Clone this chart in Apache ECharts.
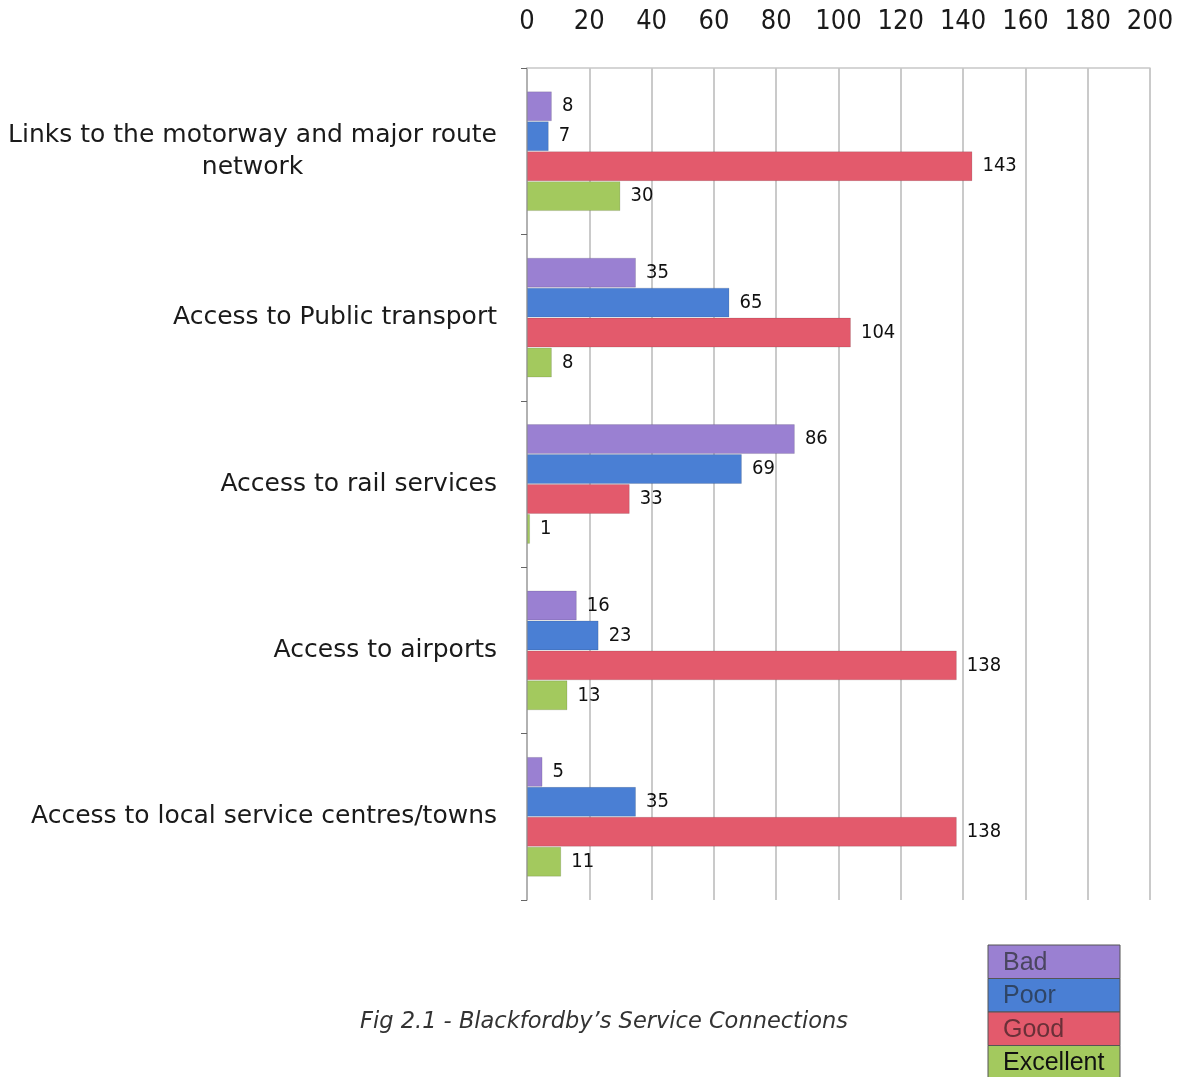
<!DOCTYPE html>
<html>
<head>
<meta charset="utf-8">
<style>
  html, body { margin: 0; padding: 0; background: #fff; }
  #chart { width: 1183px; height: 1077px; }
</style>
<script src="https://cdn.jsdelivr.net/npm/echarts@6/dist/echarts.min.js"></script>
</head>
<body>
<div id="chart"></div>
<script>
// Survey categories (top to bottom)
const categories = [
  'Links to the motorway and major route\nnetwork',
  'Access to Public transport',
  'Access to rail services',
  'Access to airports',
  'Access to local service centres/towns'
];

// Response counts per rating
const seriesNames = ['Bad', 'Poor', 'Good', 'Excellent'];
const bad       = [8, 35, 86, 16, 5];
const poor      = [7, 65, 69, 23, 35];
const good      = [143, 104, 33, 138, 138];
const excellent = [30, 8, 1, 13, 11];
const seriesData = [bad, poor, good, excellent];

const colors = ['#9a80d2', '#4a7fd4', '#e35a6c', '#a3c95e'];
const legendText = ['#4a4560', '#2f4566', '#6a3038', '#111'];

// Value axis ticks
const tickMin = 0, tickMax = 200, tickStep = 20;

const sans = '"DejaVu Sans", Verdana, sans-serif';
const condensed = '"DejaVu Sans Condensed", "DejaVu Sans", sans-serif';

const chart = echarts.init(document.getElementById('chart'));

const legendItems = [];
seriesNames.forEach((name, i) => {
  legendItems.push({
    type: 'rect',
    shape: { x: 988, y: 945 + i * 33.5, width: 132, height: 33.5 },
    style: { fill: colors[i], stroke: '#555', lineWidth: 1 }
  });
  legendItems.push({
    type: 'text',
    x: 1003, y: 945 + i * 33.5 + 18,
    style: {
      text: name, fill: legendText[i],
      font: '25px "Liberation Sans", Arial, sans-serif',
      verticalAlign: 'middle'
    }
  });
});

chart.setOption({
  animation: false,
  grid: { left: 527, right: 33, top: 68, bottom: 177, containLabel: false },
  xAxis: {
    type: 'value',
    position: 'top',
    min: tickMin, max: tickMax, interval: tickStep,
    axisLine: { show: true, lineStyle: { color: '#c8c8c8', width: 1.5 } },
    axisTick: { show: false },
    axisLabel: {
      margin: 33,
      color: '#1a1a1a',
      fontSize: 27,
      fontFamily: condensed
    },
    splitLine: { show: true, lineStyle: { color: '#b8b8b8', width: 1.5 } }
  },
  yAxis: {
    type: 'category',
    inverse: true,
    data: categories,
    axisLine: { show: true, lineStyle: { color: '#aaa', width: 1.5 } },
    axisTick: { show: true, length: 6, lineStyle: { color: '#666' } },
    axisLabel: {
      margin: 30,
      color: '#1a1a1a',
      fontSize: 25,
      fontFamily: sans,
      lineHeight: 32,
      formatter: (v) => v.split('\n').map(s => '{c|' + s + '}').join('\n'),
      rich: {
        c: {
          align: 'center',
          fontSize: 25,
          lineHeight: 32,
          color: '#1a1a1a',
          fontFamily: sans
        }
      }
    }
  },
  series: seriesNames.map((name, i) => ({
    name: name,
    type: 'bar',
    data: seriesData[i],
    barGap: '0%',
    barCategoryGap: '28%',
    itemStyle: { color: colors[i], borderColor: 'rgba(0,0,0,0.12)', borderWidth: 1 },
    label: {
      show: true,
      position: 'right',
      distance: 10,
      color: '#111',
      fontSize: 20,
      fontFamily: condensed
    }
  })),
  graphic: [
    {
      type: 'text',
      x: 604, y: 1022,
      style: {
        text: 'Fig 2.1 - Blackfordby\u2019s Service Connections',
        fill: '#333',
        font: 'italic 22.5px "DejaVu Sans", Verdana, sans-serif',
        align: 'center',
        verticalAlign: 'middle'
      }
    }
  ].concat(legendItems)
});
</script>
</body>
</html>
